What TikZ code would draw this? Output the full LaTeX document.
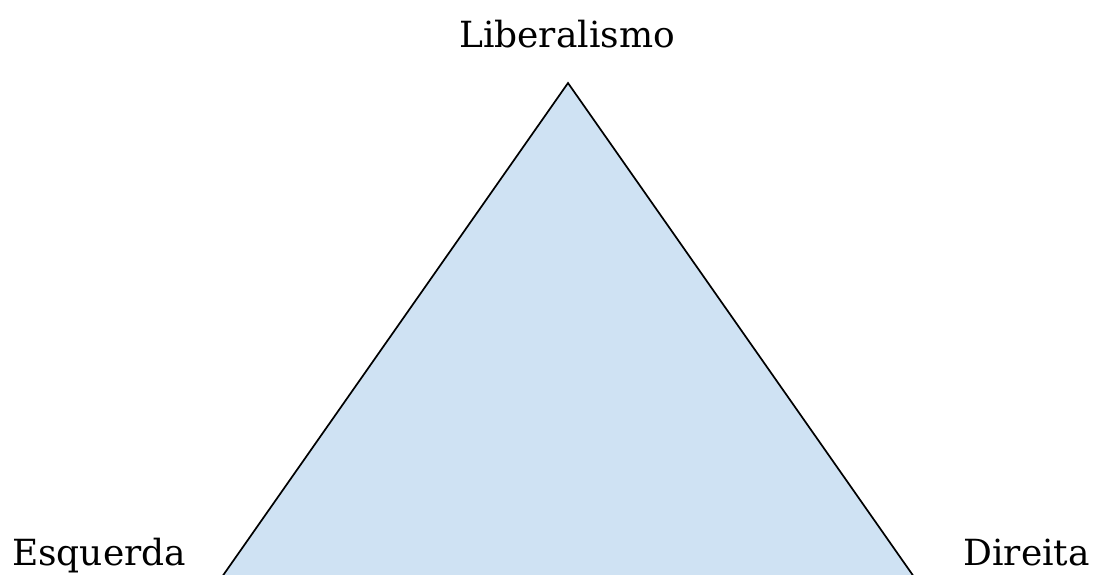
\documentclass[tikz,border=0pt]{standalone}
\usepackage{fontspec}
\setmainfont{DejaVu Serif}
\definecolor{trifill}{HTML}{CFE2F3}
\begin{document}
\begin{tikzpicture}[x=1pt,y=-1pt,
  lbl/.style={font=\fontsize{36}{42}\selectfont, inner sep=0pt}]
\useasboundingbox (0,0) rectangle (1099,574);
\clip (0,0) rectangle (1099,574);
\coordinate (apex) at (568,83);
\coordinate (bl) at (210,594);
\coordinate (br) at (926,594);
\filldraw[fill=trifill, draw=black, line width=1.7pt, line join=miter] (apex) -- (br) -- (bl) -- cycle;
\node[lbl, anchor=base] (lib) at (567,47) {Liberalismo};
\node[lbl, anchor=base west] (esq) at (12,565) {Esquerda};
\node[lbl, anchor=base east] (dir) at (1090,565) {Direita};
\end{tikzpicture}
\end{document}
